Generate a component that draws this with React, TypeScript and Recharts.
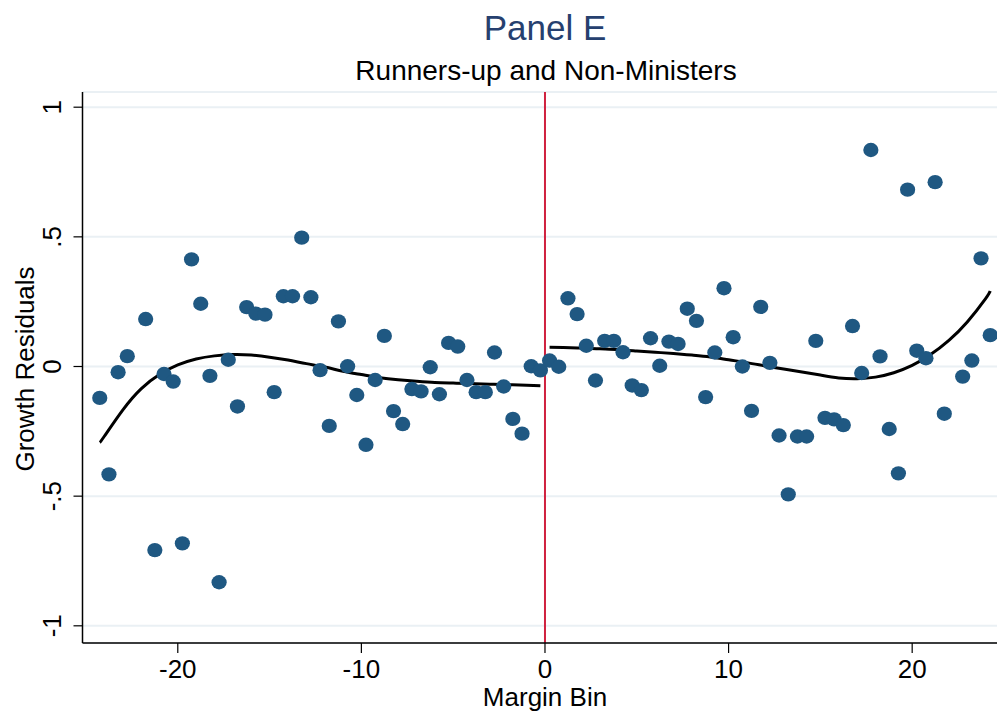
import { ComposedChart, Scatter, Line, XAxis, YAxis, CartesianGrid, ReferenceLine } from "recharts";

// binned growth residuals by margin bin
const binX = [
  -24.25, -23.75, -23.25, -22.75, -21.75, -21.25, -20.75, -20.25, -19.75, -19.25,
  -18.75, -18.25, -17.75, -17.25, -16.75, -16.25, -15.75, -15.25, -14.75, -14.25,
  -13.75, -13.25, -12.75, -12.25, -11.75, -11.25, -10.75, -10.25, -9.75, -9.25,
  -8.75, -8.25, -7.75, -7.25, -6.75, -6.25, -5.75, -5.25, -4.75, -4.25,
  -3.75, -3.25, -2.75, -2.25, -1.75, -1.25, -0.75, -0.25,
  0.25, 0.75, 1.25, 1.75, 2.25, 2.75, 3.25, 3.75, 4.25, 4.75,
  5.25, 5.75, 6.25, 6.75, 7.25, 7.75, 8.25, 8.75, 9.25, 9.75,
  10.25, 10.75, 11.25, 11.75, 12.25, 12.75, 13.25, 13.75, 14.25, 14.75,
  15.25, 15.75, 16.25, 16.75, 17.25, 17.75, 18.25, 18.75, 19.25, 19.75,
  20.25, 20.75, 21.25, 21.75, 22.75, 23.25, 23.75, 24.25,
];
const residuals = [
  -0.121, -0.416, -0.022, 0.04, 0.183, -0.708, -0.029, -0.058, -0.682, 0.413,
  0.242, -0.036, -0.832, 0.026, -0.154, 0.229, 0.204, 0.2, -0.099, 0.271,
  0.271, 0.497, 0.267, -0.014, -0.229, 0.174, 0.001, -0.11, -0.302, -0.052,
  0.118, -0.172, -0.222, -0.087, -0.096, -0.003, -0.107, 0.091, 0.077, -0.052,
  -0.099, -0.099, 0.054, -0.077, -0.202, -0.259, 0.001, -0.015,
  0.023, -0.001, 0.263, 0.202, 0.08, -0.054, 0.099, 0.099, 0.055, -0.073,
  -0.091, 0.109, 0.003, 0.096, 0.087, 0.223, 0.176, -0.118, 0.054, 0.302,
  0.113, 0.0, -0.171, 0.23, 0.014, -0.266, -0.493, -0.27, -0.27, 0.099,
  -0.198, -0.204, -0.226, 0.156, -0.025, 0.835, 0.039, -0.241, -0.412, 0.682,
  0.061, 0.032, 0.711, -0.182, -0.039, 0.023, 0.417, 0.121,
];

// fitted polynomial
const leftFitX = [-24.25, -24, -23, -22, -21, -20, -19, -18, -17, -16, -15, -14, -13, -12, -11, -10, -9, -8, -7, -6, -5, -4, -3, -2, -1, -0.25];
const leftFitY = [-0.293, -0.269, -0.168, -0.086, -0.031, 0.006, 0.029, 0.041, 0.046, 0.044, 0.036, 0.025, 0.011, -0.002, -0.018, -0.031, -0.043, -0.051, -0.057, -0.062, -0.064, -0.066, -0.068, -0.07, -0.072, -0.074];
const rightFitX = [0.25, 1, 2, 3, 4, 5, 6, 7, 8, 9, 10, 11, 12, 13, 14, 15, 16, 17, 18, 19, 20, 21, 22, 23, 24, 24.25];
const rightFitY = [0.074, 0.073, 0.071, 0.068, 0.065, 0.06, 0.055, 0.05, 0.044, 0.037, 0.026, 0.015, 0.002, -0.01, -0.021, -0.033, -0.044, -0.047, -0.041, -0.024, 0.004, 0.046, 0.101, 0.172, 0.262, 0.291];

const xTicks = [-20, -10, 0, 10, 20];
const yTicks = [-1, -0.5, 0, 0.5, 1];
const yTickLabels = ["-1", "-.5", "0", ".5", "1"];

const points = binX.map((x, i) => ({ x, y: residuals[i] }));
const leftFit = leftFitX.map((x, i) => ({ x, y: leftFitY[i] }));
const rightFit = rightFitX.map((x, i) => ({ x, y: rightFitY[i] }));

const FONT = "'Liberation Sans', Arial, Helvetica, sans-serif";
const DOT = "#1f5882";

function Label({ x, y, size, rotate = 0, fill = "#000", children }: any) {
  return (
    <text
      x={x}
      y={y}
      transform={rotate ? `rotate(${rotate} ${x} ${y})` : undefined}
      textAnchor="middle"
      fontSize={size}
      fill={fill}
      fontFamily={FONT}
    >
      {children}
    </text>
  );
}

export default function App() {
  return (
    <div style={{ position: "absolute", left: 0, top: 0, width: 1000, height: 719, background: "#fff", fontFamily: FONT }}>
      <svg width={1000} height={92} style={{ position: "absolute", left: 0, top: 0 }}>
        <Label x={545} y={40} size={35} fill="#26406f">Panel E</Label>
        <Label x={546} y={80} size={28}>Runners-up and Non-Ministers</Label>
      </svg>
      <ComposedChart width={1000} height={719} margin={{ top: 92, right: 3, bottom: 0, left: 0 }}>
        <CartesianGrid vertical={false} stroke="#eaf0f4" strokeWidth={2} />
        <XAxis
          type="number"
          dataKey="x"
          domain={[-25.19, 24.62]}
          allowDataOverflow
          ticks={xTicks}
          height={76}
          tickSize={10}
          axisLine={{ stroke: "#000", strokeWidth: 1.5 }}
          tickLine={{ stroke: "#000", strokeWidth: 1.2 }}
          tick={(p: any) => <Label x={p.x} y={678} size={26}>{p.payload.value}</Label>}
          label={{ content: () => <Label x={545} y={706} size={26}>Margin Bin</Label> }}
        />
        <YAxis
          type="number"
          dataKey="y"
          domain={[-1.0663, 1.0586]}
          allowDataOverflow
          ticks={yTicks}
          width={82.5}
          tickSize={9}
          axisLine={{ stroke: "#000", strokeWidth: 1.5 }}
          tickLine={{ stroke: "#000", strokeWidth: 1.2 }}
          tick={(p: any) => (
            <Label x={61} y={p.y} rotate={-90} size={26}>
              {yTickLabels[yTicks.indexOf(p.payload.value)]}
            </Label>
          )}
          label={{ content: () => <Label x={34} y={369} rotate={-90} size={26}>Growth Residuals</Label> }}
        />
        <ReferenceLine x={0} stroke="#d0213f" strokeWidth={2} />
        <Scatter
          data={points}
          isAnimationActive={false}
          shape={(p: any) => <ellipse cx={p.cx} cy={p.cy} rx={7.6} ry={7.2} fill={DOT} />}
        />
        <Line data={leftFit} dataKey="y" type="natural" stroke="#000" strokeWidth={3} dot={false} isAnimationActive={false} />
        <Line data={rightFit} dataKey="y" type="natural" stroke="#000" strokeWidth={3} dot={false} isAnimationActive={false} />
      </ComposedChart>
    </div>
  );
}
